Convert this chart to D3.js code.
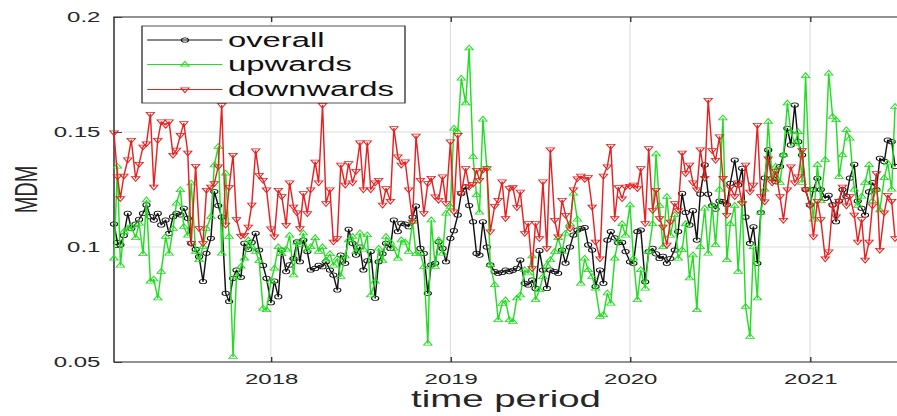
<!DOCTYPE html>
<html>
<head>
<meta charset="utf-8">
<script src="https://cdn.jsdelivr.net/npm/d3@7"></script>
<style>
  html, body { margin: 0; padding: 0; background: #fff; overflow: hidden; }
  svg { display: block; font-family: "Liberation Sans", Arial, Helvetica, sans-serif; }
</style>
</head>
<body>
<svg id="chart" width="897" height="416"></svg>
<script>
// MDM series, four samples per month (days 1, 8, 16, 23) starting 16 Feb 2017
const overall = [
  0.110, 0.102, 0.101, 0.105, 0.1146, 0.108, 0.110, 0.112, 0.1146, 0.1183,
  0.1132, 0.1117, 0.1146, 0.1096, 0.1117, 0.1059, 0.1132, 0.1146, 0.114, 0.1168,
  0.1125, 0.1016, 0.099, 0.0958, 0.085, 0.0973, 0.1038, 0.1241, 0.118, 0.113,
  0.0799, 0.0763, 0.0864, 0.090, 0.0868, 0.1016, 0.099, 0.102, 0.106, 0.0987,
  0.092, 0.0864, 0.0758, 0.0852, 0.0784, 0.0987, 0.0893, 0.0922, 0.095, 0.1023,
  0.0936, 0.103, 0.098, 0.090, 0.0907, 0.092, 0.0914, 0.0936, 0.090, 0.0878,
  0.0813, 0.0965, 0.0929, 0.1077, 0.1016, 0.0965, 0.100, 0.090, 0.094, 0.098,
  0.0777, 0.0936, 0.097, 0.1016, 0.0994, 0.1117, 0.1067, 0.1103, 0.110, 0.1088,
  0.113, 0.1178, 0.0994, 0.0972, 0.0799, 0.0922, 0.0929, 0.1023, 0.0994, 0.0936,
  0.1038, 0.1071, 0.1139, 0.1233, 0.1262, 0.118, 0.111, 0.0972, 0.0965, 0.111,
  0.100, 0.0922, 0.0893, 0.0886, 0.0889, 0.090, 0.0893, 0.0899, 0.0907, 0.0943,
  0.0842, 0.0835, 0.0856, 0.082, 0.0984, 0.090, 0.082, 0.090, 0.0893, 0.0886,
  0.0987, 0.093, 0.100, 0.1052, 0.1074, 0.108, 0.1085, 0.1009, 0.0987, 0.0828,
  0.090, 0.0842, 0.103, 0.1067, 0.104, 0.1019, 0.102, 0.098, 0.0936, 0.0929,
  0.1067, 0.1074, 0.0849, 0.098, 0.0994, 0.097, 0.095, 0.096, 0.0929, 0.095,
  0.0987, 0.1067, 0.1233, 0.115, 0.1096, 0.1158, 0.103, 0.123, 0.1357, 0.123,
  0.118, 0.1165, 0.120, 0.1197, 0.1185, 0.1277, 0.1378, 0.127, 0.1342, 0.113,
  0.1016, 0.1088, 0.0929, 0.115, 0.130, 0.1422, 0.1299, 0.1285, 0.135, 0.140,
  0.1516, 0.1444, 0.1617, 0.1458, 0.140, 0.125, 0.1183, 0.125, 0.1299, 0.125,
  0.1212, 0.1225, 0.1183, 0.111, 0.120, 0.125, 0.122, 0.130, 0.1359, 0.120,
  0.1168, 0.1139, 0.124, 0.128, 0.125, 0.1386, 0.1372, 0.1465, 0.1458, 0.135
];
const upwards = [
  0.095, 0.135, 0.092, 0.1067, 0.108, 0.109, 0.104, 0.1103, 0.097, 0.1204,
  0.085, 0.086, 0.0777, 0.0893, 0.1045, 0.0972, 0.108, 0.119, 0.1248, 0.1088,
  0.105, 0.1277, 0.098, 0.0944, 0.100, 0.108, 0.1132, 0.1356, 0.1436, 0.0972,
  0.132, 0.1045, 0.0523, 0.0871, 0.0915, 0.095, 0.103, 0.100, 0.098, 0.094,
  0.0733, 0.0726, 0.085, 0.0907, 0.100, 0.097, 0.099, 0.105, 0.0878, 0.102,
  0.101, 0.106, 0.0987, 0.100, 0.104, 0.098, 0.100, 0.0943, 0.097, 0.092,
  0.095, 0.0871, 0.096, 0.103, 0.1045, 0.098, 0.106, 0.099, 0.1052, 0.0791,
  0.085, 0.0994, 0.094, 0.1045, 0.102, 0.0994, 0.095, 0.103, 0.102, 0.098,
  0.111, 0.097, 0.0972, 0.0914, 0.0581, 0.1117, 0.0914, 0.103, 0.0972, 0.1146,
  0.1175, 0.1516, 0.150, 0.1733, 0.1625, 0.1864, 0.1393, 0.1226, 0.115, 0.1555,
  0.1342, 0.0922, 0.0835, 0.0683, 0.0754, 0.0769, 0.0683, 0.0675, 0.0777, 0.0791,
  0.090, 0.0886, 0.096, 0.077, 0.0813, 0.087, 0.092, 0.0944, 0.098, 0.104,
  0.098, 0.1059, 0.110, 0.1233, 0.112, 0.0842, 0.095, 0.090, 0.0871, 0.082,
  0.0697, 0.0705, 0.0799, 0.0755, 0.095, 0.103, 0.110, 0.105, 0.1182, 0.095,
  0.077, 0.090, 0.082, 0.098, 0.110, 0.1404, 0.118, 0.100, 0.1219, 0.105,
  0.114, 0.095, 0.0987, 0.110, 0.0864, 0.0965, 0.0726, 0.100, 0.1168, 0.0972,
  0.118, 0.1009, 0.125, 0.156, 0.0944, 0.110, 0.118, 0.0893, 0.120, 0.074,
  0.061, 0.100, 0.0777, 0.115, 0.125, 0.1545, 0.130, 0.135, 0.128, 0.140,
  0.1625, 0.150, 0.145, 0.150, 0.128, 0.1744, 0.125, 0.112, 0.1357, 0.120,
  0.138, 0.1755, 0.1567, 0.1552, 0.1306, 0.140, 0.1509, 0.1472, 0.125, 0.118,
  0.122, 0.128, 0.1357, 0.120, 0.125, 0.116, 0.130, 0.1364, 0.125, 0.161
];
const downwards = [
  0.1497, 0.1306, 0.1212, 0.1309, 0.138, 0.1465, 0.1299, 0.1361, 0.1436, 0.145,
  0.1578, 0.1262, 0.1465, 0.1545, 0.1530, 0.1545, 0.140, 0.1422, 0.1487, 0.1538,
  0.141, 0.1016, 0.1352, 0.1081, 0.1016, 0.1248, 0.1262, 0.1277, 0.135, 0.1617,
  0.1096, 0.126, 0.140, 0.112, 0.1048, 0.1052, 0.1088, 0.1183, 0.1419, 0.1313,
  0.1291, 0.125, 0.108, 0.1045, 0.1248, 0.122, 0.1095, 0.128, 0.1175, 0.115,
  0.1081, 0.1233, 0.1146, 0.125, 0.137, 0.128, 0.1617, 0.119, 0.125, 0.1023,
  0.1038, 0.1357, 0.127, 0.1364, 0.128, 0.133, 0.1454, 0.125, 0.1454, 0.125,
  0.128, 0.1291, 0.1183, 0.1255, 0.120, 0.1516, 0.1393, 0.1357, 0.1371, 0.125,
  0.111, 0.1483, 0.1291, 0.1146, 0.1277, 0.130, 0.1219, 0.1204, 0.1306, 0.119,
  0.1458, 0.1154, 0.1487, 0.1233, 0.1342, 0.1262, 0.1274, 0.1335, 0.1291, 0.1335,
  0.1342, 0.1067, 0.1178, 0.1204, 0.1284, 0.1125, 0.1255, 0.126, 0.1172, 0.124,
  0.106, 0.1103, 0.0907, 0.1103, 0.1038, 0.1284, 0.0994, 0.1424, 0.1117, 0.1045,
  0.1204, 0.1139, 0.108, 0.125, 0.1298, 0.1309, 0.1295, 0.1303, 0.1175, 0.1023,
  0.095, 0.1309, 0.135, 0.1439, 0.1125, 0.126, 0.1211, 0.1262, 0.1265, 0.127,
  0.1255, 0.1342, 0.1103, 0.1429, 0.116, 0.1248, 0.1125, 0.1088, 0.1009, 0.111,
  0.119, 0.116, 0.141, 0.132, 0.1357, 0.128, 0.125, 0.1424, 0.13, 0.1639,
  0.142, 0.1378, 0.148, 0.130, 0.1139, 0.126, 0.122, 0.128, 0.119, 0.1357,
  0.124, 0.127, 0.153, 0.122, 0.1197, 0.1385, 0.128, 0.133, 0.122, 0.1117,
  0.125, 0.135, 0.128, 0.1306, 0.142, 0.125, 0.118, 0.1045, 0.120, 0.112,
  0.095, 0.098, 0.118, 0.1132, 0.12, 0.1262, 0.118, 0.122, 0.114, 0.1023,
  0.112, 0.0944, 0.1023, 0.118, 0.132, 0.0987, 0.115, 0.1226, 0.12, 0.1038
];

const seriesNames = ["overall", "upwards", "downwards"];
const seriesColors = ["#111111", "#22dd22", "#e82020"];
const yTicks = [0.05, 0.1, 0.15, 0.2];
const xTickYears = [2018, 2019, 2020, 2021];
const sampleDays = [1, 8, 16, 23];

(function () {
  // sample dates
  const dates = overall.map((_, k) => {
    const n = 2 + k;
    return new Date(2017, 1 + Math.floor(n / 4), sampleDays[n % 4]);
  });

  // the figure is drawn at its native size and widened horizontally
  const S = 1.6;
  const pLeft = 114 / S, pRight = 898 / S, pTop = 17, pBottom = 362;

  const svg = d3.select("#chart");
  const g = svg.append("g").attr("transform", `scale(${S},1)`);

  const x = d3.scaleTime()
    .domain([new Date(2017, 1, 16), new Date(2021, 0, 1)])
    .range([114 / S, 810 / S]);
  const y = d3.scaleLinear().domain([0.05, 0.2]).range([pBottom, pTop]);

  const axisColor = "#262626";
  const yearDates = xTickYears.map(yr => new Date(yr, 0, 1));

  // grid
  const grid = g.append("g").attr("stroke", "#dedede");
  grid.selectAll("line.gx").data(yearDates).join("line").attr("class", "gx")
    .attr("x1", d => x(d)).attr("x2", d => x(d))
    .attr("y1", pTop).attr("y2", pBottom).attr("stroke-width", 0.7);
  grid.selectAll("line.gy").data(yTicks.filter(v => v > 0.05 && v < 0.2)).join("line").attr("class", "gy")
    .attr("x1", pLeft).attr("x2", pRight)
    .attr("y1", d => y(d)).attr("y2", d => y(d))
    .attr("stroke-width", 1);

  // axes (ticks point inward)
  const xAxis = d3.axisBottom(x).tickValues(yearDates)
    .tickFormat(d3.timeFormat("%Y")).tickSizeInner(-5).tickSizeOuter(0).tickPadding(11);
  const gx = g.append("g").attr("transform", `translate(0,${pBottom})`).call(xAxis);
  const gxTop = g.append("g").attr("transform", `translate(0,${pTop})`)
    .call(d3.axisTop(x).tickValues(yearDates).tickFormat("").tickSizeInner(-5).tickSizeOuter(0));
  const yAxis = d3.axisLeft(y).tickValues(yTicks).tickFormat(d3.format("~g"))
    .tickSizeInner(-5).tickSizeOuter(0).tickPadding(8.5);
  const gy = g.append("g").attr("transform", `translate(${pLeft},0)`).call(yAxis);

  [gx, gxTop, gy].forEach(a => {
    a.select(".domain").remove();
    a.selectAll(".tick line").attr("stroke", axisColor).attr("stroke-width", 0.8);
    a.selectAll(".tick text").attr("fill", axisColor)
      .attr("font-size", 15).attr("font-family", "Liberation Sans, Arial, sans-serif");
  });

  // axes box
  g.append("path")
    .attr("d", `M${pRight},${pTop}H${pLeft}V${pBottom}H${pRight}`)
    .attr("fill", "none").attr("stroke", axisColor).attr("stroke-width", 0.9);

  // markers
  const triUp = "M0,-3.1L2.6,1.7L-2.6,1.7Z";
  const triDown = "M0,3.1L2.6,-1.7L-2.6,-1.7Z";

  const seriesData = [overall, upwards, downwards];
  const line = d3.line().x((d, i) => x(dates[i])).y(d => y(d));

  const plot = g.append("g");
  seriesData.forEach((vals, s) => {
    const col = seriesColors[s];
    const layer = plot.append("g");
    layer.append("path").datum(vals)
      .attr("d", line)
      .attr("fill", "none").attr("stroke", col).attr("stroke-width", 0.9)
      .attr("stroke-linejoin", "round");
    const pts = layer.selectAll("g.m").data(vals).join("g").attr("class", "m")
      .attr("transform", (d, i) => `translate(${x(dates[i])},${y(d)})`);
    if (s === 0) {
      pts.append("circle").attr("r", 2.2).attr("fill", "none")
        .attr("stroke", col).attr("stroke-width", 0.75);
    } else {
      pts.append("path").attr("d", s === 1 ? triUp : triDown).attr("fill", "none")
        .attr("stroke", col).attr("stroke-width", 0.75);
    }
  });

  // axis labels
  g.append("text")
    .attr("transform", `translate(${23.3},${(pTop + pBottom) / 2}) rotate(-90)`)
    .attr("text-anchor", "middle").attr("font-size", 20).attr("fill", axisColor)
    .text("MDM");
  g.append("text")
    .attr("x", (pLeft + pRight) / 2).attr("y", 407)
    .attr("text-anchor", "middle").attr("font-size", 24).attr("fill", axisColor)
    .text("time period");

  // legend
  const lg = g.append("g");
  lg.append("rect")
    .attr("x", 142 / S).attr("y", 26)
    .attr("width", (405 - 142) / S).attr("height", 77)
    .attr("fill", "#fff").attr("stroke", axisColor).attr("stroke-width", 0.8);
  const rows = [40, 64.5, 89.5];
  seriesNames.forEach((name, s) => {
    const ry = rows[s];
    const col = seriesColors[s];
    lg.append("line").attr("x1", 92).attr("x2", 139).attr("y1", ry).attr("y2", ry)
      .attr("stroke", col).attr("stroke-width", 0.9);
    if (s === 0) {
      lg.append("circle").attr("cx", 115.6).attr("cy", ry).attr("r", 2.2)
        .attr("fill", "none").attr("stroke", col).attr("stroke-width", 0.75);
    } else {
      lg.append("path").attr("transform", `translate(115.6,${ry})`)
        .attr("d", s === 1 ? triUp : triDown)
        .attr("fill", "none").attr("stroke", col).attr("stroke-width", 0.75);
    }
    lg.append("text").attr("x", 142.5).attr("y", ry + 7)
      .attr("font-size", 20.5).attr("fill", "#111").text(name);
  });
})();
</script>
</body>
</html>
